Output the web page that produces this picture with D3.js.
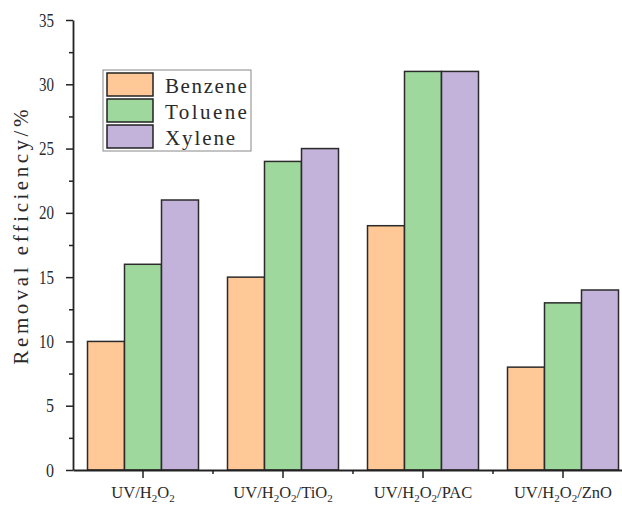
<!DOCTYPE html>
<html>
<head>
<meta charset="utf-8">
<script src="https://cdn.jsdelivr.net/npm/d3@7"></script>
<style>
  html, body { margin: 0; padding: 0; background: #fff; }
  svg { display: block; }
  text { font-family: "Liberation Serif", "DejaVu Serif", serif; fill: #2a2a2a; }
</style>
</head>
<body>
<div id="chart"></div>
<script>
// data
const categories = ['UV/H2O2', 'UV/H2O2/TiO2', 'UV/H2O2/PAC', 'UV/H2O2/ZnO'];
const series = ['Benzene', 'Toluene', 'Xylene'];
const benzene = [10, 15, 19, 8];
const toluene = [16, 24, 31, 13];
const xylene = [21, 25, 31, 14];
const yTicks = [0, 5, 10, 15, 20, 25, 30, 35];
const colors = ['#ffc896', '#9fd89d', '#c3b2d9'];

// x label pieces: [text, isSubscript]
const labelParts = [
  [['UV/H', 0], ['2', 1], ['O', 0], ['2', 1]],
  [['UV/H', 0], ['2', 1], ['O', 0], ['2', 1], ['/TiO', 0], ['2', 1]],
  [['UV/H', 0], ['2', 1], ['O', 0], ['2', 1], ['/PAC', 0]],
  [['UV/H', 0], ['2', 1], ['O', 0], ['2', 1], ['/ZnO', 0]]
];

const values = [benzene, toluene, xylene];
const rows = categories.map((c, i) => ({ cat: c, i, vals: series.map((s, j) => ({ s, j, v: values[j][i] })) }));

const W = 622, H = 505;
const mLeft = 73, mBottom = 470, mTop = 20;

const svg = d3.select('#chart').append('svg')
  .attr('width', W)
  .attr('height', H);

// scales
const x0 = d3.scaleBand().domain(categories).range([mLeft, mLeft + 140 * 4]).padding(0);
const x1 = d3.scaleBand().domain(series).range([0, 111]).padding(0);
const groupOffset = (x0.bandwidth() - 111) / 2;
const y = d3.scaleLinear().domain([0, 35]).range([mBottom, mTop]);

// bars
const groups = svg.append('g').selectAll('g')
  .data(rows)
  .join('g')
  .attr('transform', d => `translate(${x0(d.cat) + groupOffset},0)`);

groups.selectAll('rect')
  .data(d => d.vals)
  .join('rect')
  .attr('x', d => x1(d.s))
  .attr('y', d => y(d.v))
  .attr('width', x1.bandwidth())
  .attr('height', d => y(0) - y(d.v))
  .attr('fill', d => colors[d.j])
  .attr('stroke', '#2b2b2b')
  .attr('stroke-width', 1.5);

// y axis: minor ticks then major
const minor = d3.range(2.5, 35, 5);
svg.append('g')
  .attr('transform', `translate(${mLeft},0)`)
  .call(d3.axisLeft(y).tickValues(minor).tickSize(4).tickFormat(''))
  .call(g => g.select('.domain').remove())
  .selectAll('line').attr('stroke', '#222').attr('stroke-width', 1.5);

const yAxis = svg.append('g')
  .attr('transform', `translate(${mLeft},0)`)
  .call(d3.axisLeft(y).tickValues(yTicks).tickSize(7).tickSizeOuter(0).tickPadding(12));
yAxis.select('.domain').attr('stroke', '#222').attr('stroke-width', 1.8);
yAxis.selectAll('line').attr('stroke', '#222').attr('stroke-width', 1.5);
yAxis.selectAll('text')
  .style('font-family', '"Liberation Serif", serif')
  .style('font-size', '19px')
  .attr('fill', '#2a2a2a')
  .attr('textLength', d => d >= 10 ? 15 : 8)
  .attr('lengthAdjust', 'spacingAndGlyphs');

// x axis
const xAxis = svg.append('g')
  .attr('transform', `translate(0,${mBottom})`)
  .call(d3.axisBottom(x0).tickSize(8).tickSizeOuter(0).tickFormat(''));
xAxis.select('.domain').attr('stroke', '#222').attr('stroke-width', 1.8);
xAxis.selectAll('line').attr('stroke', '#222').attr('stroke-width', 1.5);

// minor ticks at band boundaries
svg.append('g').selectAll('line')
  .data(categories.slice(1))
  .join('line')
  .attr('x1', d => x0(d)).attr('x2', d => x0(d))
  .attr('y1', mBottom).attr('y2', mBottom + 4)
  .attr('stroke', '#222').attr('stroke-width', 1.5);

// x labels with subscripts
const xl = svg.append('g').selectAll('text')
  .data(rows)
  .join('text')
  .attr('x', d => x0(d.cat) + x0.bandwidth() / 2)
  .attr('y', 498)
  .attr('text-anchor', 'middle')
  .style('font-size', '16.5px');

xl.each(function (d) {
  const t = d3.select(this);
  labelParts[d.i].forEach(([s, sub], k) => {
    const prev = k > 0 ? labelParts[d.i][k - 1][1] : 0;
    const ts = t.append('tspan').text(s);
    if (sub) ts.attr('dy', 4).style('font-size', '11px');
    else if (prev) ts.attr('dy', -4);
  });
});

// y label
svg.append('text')
  .attr('transform', 'translate(28,237) rotate(-90)')
  .attr('text-anchor', 'middle')
  .attr('textLength', 255)
  .attr('lengthAdjust', 'spacing')
  .style('font-size', '21px')
  .text('Removal efficiency/%');

// legend
const legend = svg.append('g').attr('transform', 'translate(103,70)');
legend.append('rect')
  .attr('width', 148).attr('height', 81)
  .attr('fill', '#fff').attr('stroke', '#888').attr('stroke-width', 1);

const item = legend.selectAll('g.item')
  .data(series)
  .join('g')
  .attr('class', 'item')
  .attr('transform', (d, i) => `translate(4,${3 + i * 26})`);

item.append('rect')
  .attr('width', 46).attr('height', 23)
  .attr('fill', (d, i) => colors[i])
  .attr('stroke', '#222').attr('stroke-width', 1.5);

item.append('text')
  .attr('x', 58).attr('y', 20)
  .style('font-size', '21px')
  .attr('textLength', d => d.length * 11.7)
  .attr('lengthAdjust', 'spacing')
  .text(d => d);
</script>
</body>
</html>
